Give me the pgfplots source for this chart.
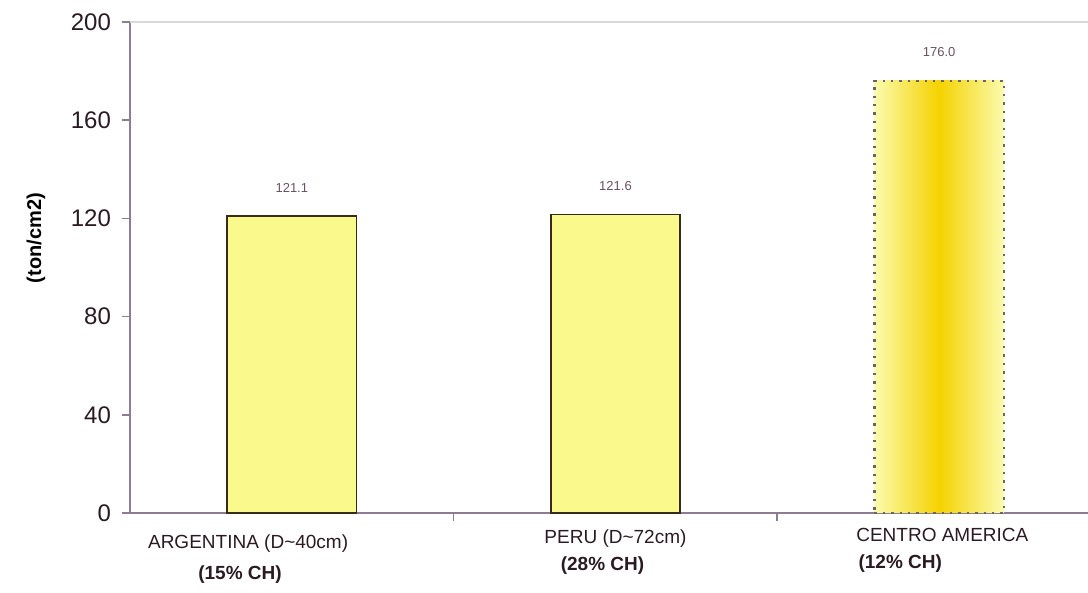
\documentclass[border=0pt]{standalone}
\usepackage{pgfplots}
\pgfplotsset{compat=1.18}
\usepackage{fontspec}
\setmainfont{Liberation Sans}
\definecolor{axcol}{HTML}{8C7D95}
\definecolor{barfill}{HTML}{F9F98C}
\definecolor{baredge}{HTML}{3A2A1A}
\definecolor{vallab}{HTML}{6A5060}
\definecolor{txt}{HTML}{2A1A22}
\definecolor{midcol}{HTML}{F5D200}
\begin{document}
\begin{tikzpicture}
\begin{axis}[
  scale only axis,
  width=479pt, height=245.5pt,
  xmin=-0.5, xmax=2.46,
  ymin=0, ymax=200,
  ytick={0,40,80,120,160,200},
  xtick={0.5,1.5},
  xticklabels={},
  axis x line*=bottom, axis y line*=left,
  axis line style={axcol, line width=0.8pt},
  x axis line style={-}, y axis line style={-},
  tick style={axcol, line width=0.8pt},
  major tick length=4pt,
  tick align=outside,
  yticklabel style={font=\fontsize{12}{14}\selectfont, text=txt, xshift=-2pt},
  /pgf/number format/assume math mode=true,
  ylabel={\textbf{(ton/cm2)}},
  ylabel style={font=\fontsize{12}{14}\selectfont, text=txt},
  every axis y label/.style={at={(ticklabel cs:0.56)}, rotate=90, anchor=near ticklabel, yshift=6pt},
  clip=false,
  nodes near coords,
  every node near coord/.append style={font=\fontsize{6.5}{8}\selectfont, text=vallab, yshift=8pt},
]
\addplot[ybar, bar width=0.4, bar shift=0pt, fill=barfill, draw=baredge, line width=0.9pt,
  nodes near coords={\pgfmathprintnumber[fixed,precision=1,fixed zerofill]{\pgfplotspointmeta}}]
  coordinates {(0,121.1) (1,121.6)};
\addplot[ybar, bar width=0.4, bar shift=0pt, left color=barfill!70, right color=barfill!70, middle color=midcol, draw=black!60, dash pattern=on 1.2pt off 3pt, line width=1.2pt,
  nodes near coords={\pgfmathprintnumber[fixed,precision=1,fixed zerofill]{\pgfplotspointmeta}}]
  coordinates {(2,176.0)};
\draw[black!15, line width=0.8pt] (rel axis cs:0,1) -- (rel axis cs:1,1);
\node[font=\fontsize{9.5}{11}\selectfont, text=txt] at (axis cs:-0.135,-12.5) {ARGENTINA (D\textasciitilde40cm)};
\node[font=\bfseries\fontsize{9.5}{11}\selectfont, text=txt] at (axis cs:-0.16,-25) {(15\% CH)};
\node[font=\fontsize{9.5}{11}\selectfont, text=txt] at (axis cs:1.0,-10.5) {PERU (D\textasciitilde72cm)};
\node[font=\bfseries\fontsize{9.5}{11}\selectfont, text=txt] at (axis cs:0.96,-21.5) {(28\% CH)};
\node[font=\fontsize{9.5}{11}\selectfont, text=txt] at (axis cs:2.01,-9) {CENTRO AMERICA};
\node[font=\bfseries\fontsize{9.5}{11}\selectfont, text=txt] at (axis cs:1.88,-20.5) {(12\% CH)};
\end{axis}
\pgfresetboundingbox
\path (current axis.south west) ++(-65pt,-40pt) coordinate (bl);
\path (bl) rectangle ++(544pt,296.5pt);
\end{tikzpicture}
\end{document}
